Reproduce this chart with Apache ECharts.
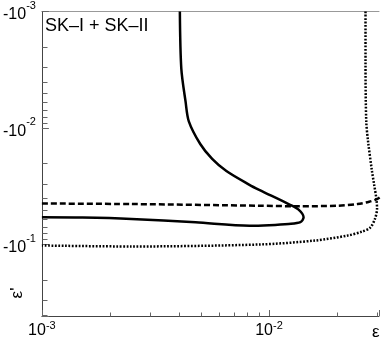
<!DOCTYPE html>
<html>
<head>
<meta charset="utf-8">
<script src="https://cdn.jsdelivr.net/npm/echarts@6/dist/echarts.min.js"></script>
<style>
	html, body { margin: 0; padding: 0; background: #fff; }
	#chart { width: 382px; height: 341px; }
</style>
</head>
<body>
<div id="chart"></div>
<script>
// epsilon (x) and epsilon' (y, negative)
var solidEps = [4.05e-3, 4.11e-3, 4.29e-3, 4.435e-3, 4.98e-3, 5.62e-3, 6.49e-3, 8.2e-3, 9.05e-3, 1.22e-2,
	1.35e-2, 1.42e-2, 1.375e-2, 1.22e-2, 1.0e-2, 8.2e-3, 4.75e-3, 2.48e-3, 1.51e-3, 1.0e-3];
var solidEpsP = [-1.0e-3, -3.09e-3, -5.91e-3, -8.75e-3, -1.37e-2, -1.84e-2, -2.34e-2, -3.07e-2, -3.39e-2, -4.49e-2,
	-5.01e-2, -5.84e-2, -6.42e-2, -6.65e-2, -6.81e-2, -6.88e-2, -6.44e-2, -6.03e-2, -5.87e-2, -5.84e-2];

var dashedEps = [1.0e-3, 2.48e-3, 9.05e-3, 1.35e-2, 2.01e-2, 2.45e-2, 2.76e-2, 2.99e-2, 3.14e-2];
var dashedEpsP = [-4.44e-2, -4.49e-2, -4.64e-2, -4.69e-2, -4.64e-2, -4.49e-2, -4.29e-2, -4.07e-2, -3.81e-2];

var dottedEps = [2.66e-2, 2.66e-2, 2.68e-2, 2.73e-2, 2.84e-2, 2.90e-2, 2.97e-2, 2.99e-2, 2.93e-2, 2.79e-2,
	2.57e-2, 2.22e-2, 1.597e-2, 9.05e-3, 2.48e-3, 1.0e-3];
var dottedEpsP = [-1.0e-3, -2.7e-3, -8.75e-3, -1.30e-2, -2.34e-2, -3.01e-2, -4.05e-2, -4.92e-2, -5.99e-2, -7.15e-2,
	-7.73e-2, -8.36e-2, -9.23e-2, -9.98e-2, -1.038e-1, -1.018e-1];

// axis ranges (y axis shows |epsilon'|, drawn downwards)
var xRange = [1e-3, 3.05e-2];
var yRange = [1e-3, 0.41];
var xMinorTicks = [2e-3, 3e-3, 4e-3, 5e-3, 6e-3, 7e-3, 8e-3, 9e-3, 2e-2, 3e-2];
var yMinorTicks = [2e-3, 3e-3, 4e-3, 5e-3, 6e-3, 7e-3, 8e-3, 9e-3,
	2e-2, 3e-2, 4e-2, 5e-2, 6e-2, 7e-2, 8e-2, 9e-2, 2e-1, 3e-1, 4e-1];

var FONT = 'Liberation Sans, Arial, Helvetica, sans-serif';
var TICK = '#666';

function pairs(xs, ys) {
	var out = [];
	for (var i = 0; i < xs.length; ++i) {
		out.push([xs[i], Math.abs(ys[i])]);
	}
	return out;
}

function powLabel(v, prefix, sup) {
	var e = Math.log(v) / Math.LN10;
	var r = Math.round(e);
	if (Math.abs(e - r) > 1e-6) return '';
	return '{b|' + prefix + '10}{' + sup + '|' + r + '}';
}

function curve(name, data, dash) {
	return {
		name: name,
		type: 'line',
		data: data,
		showSymbol: false,
		smooth: 0.3,
		lineStyle: { color: '#000', width: 2.5, type: dash },
		z: 5
	};
}

// minor ticks: short lines drawn from the axis inwards, placed by the axis scales
function minorTicks(ticks, isX) {
	var data = [];
	for (var i = 0; i < ticks.length; ++i) {
		data.push(isX ? [ticks[i], yRange[1]] : [xRange[0], ticks[i]]);
	}
	return {
		type: 'custom',
		coordinateSystem: 'cartesian2d',
		data: data,
		clip: false,
		silent: true,
		z: 10,
		renderItem: function(params, api) {
			var p = api.coord([api.value(0), api.value(1)]);
			var x = Math.round(p[0]) + 0.5;
			var y = Math.round(p[1]) + 0.5;
			return {
				type: 'line',
				shape: isX ? { x1: x, y1: y, x2: x, y2: y - 4 } : { x1: x, y1: y, x2: x + 5, y2: y },
				style: { stroke: TICK, lineWidth: 1, fill: null }
			};
		}
	};
}

var chart = echarts.init(document.getElementById('chart'));
var option = {
	animation: false,
	grid: { left: 39, top: 10, right: 0, bottom: 25 },
	xAxis: [{
		type: 'log',
		min: xRange[0],
		max: xRange[1],
		splitLine: { show: false },
		axisLine: { lineStyle: { color: '#444', width: 1 } },
		axisTick: { show: true, inside: true, length: 6, lineStyle: { color: TICK, width: 1 } },
		axisLabel: {
			margin: 4,
			formatter: function(v) { return powLabel(v, '', 's'); },
			rich: {
				b: { fontFamily: FONT, fontSize: 16, color: '#000', verticalAlign: 'bottom' },
				s: { fontFamily: FONT, fontSize: 11, color: '#000', verticalAlign: 'bottom', padding: [0, 0, 8, 0] }
			}
		}
	}, {
		type: 'value',
		position: 'top',
		min: 0,
		max: 1,
		axisLine: { lineStyle: { color: '#999', width: 1 } },
		axisTick: { show: false },
		axisLabel: { show: false },
		splitLine: { show: false }
	}],
	yAxis: {
		type: 'log',
		inverse: true,
		min: yRange[0],
		max: yRange[1],
		splitLine: { show: false },
		axisLine: { lineStyle: { color: '#444', width: 1 } },
		axisTick: { show: true, inside: true, length: 7, lineStyle: { color: TICK, width: 1 } },
		axisLabel: {
			margin: 6,
			formatter: function(v) { return powLabel(v, '-', 's'); },
			rich: {
				b: { fontFamily: FONT, fontSize: 16, color: '#000', verticalAlign: 'bottom' },
				s: { fontFamily: FONT, fontSize: 11, color: '#000', verticalAlign: 'bottom', padding: [0, 0, 12, 0] }
			}
		}
	},
	graphic: [
		{ type: 'text', left: 45, top: 17, style: { text: 'SK\u2013I + SK\u2013II', font: '18px ' + FONT, fill: '#000' } },
		{ type: 'text', left: 372, top: 324, style: { text: '\u03b5', font: '17px ' + FONT, fill: '#000' } },
		{ type: 'text', x: 17, y: 293, rotation: Math.PI / 2,
			style: { text: '\u03b5\'', font: '17px ' + FONT, fill: '#000', align: 'center', verticalAlign: 'middle' } }
	],
	series: [
		curve('solid', pairs(solidEps, solidEpsP), 'solid'),
		curve('dashed', pairs(dashedEps, dashedEpsP), [6, 3]),
		curve('dotted', pairs(dottedEps, dottedEpsP), [1.8, 1.6]),
		minorTicks(xMinorTicks, true),
		minorTicks(yMinorTicks, false)
	]
};
chart.setOption(option);
</script>
</body>
</html>
